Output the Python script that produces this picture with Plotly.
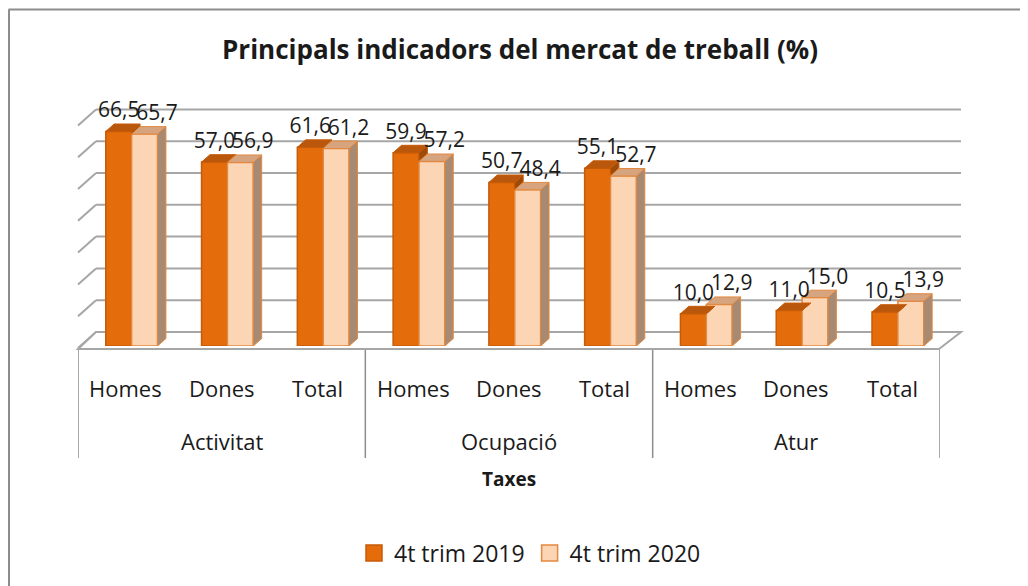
import plotly.graph_objects as go

groups = ["Activitat"] * 3 + ["Ocupació"] * 3 + ["Atur"] * 3
subcats = ["Homes", "Dones", "Total"] * 3
vals_2019 = [66.5, 57.0, 61.6, 59.9, 50.7, 55.1, 10.0, 11.0, 10.5]
vals_2020 = [65.7, 56.9, 61.2, 57.2, 48.4, 52.7, 12.9, 15.0, 13.9]
series_names = ["4t trim 2019", "4t trim 2020"]
axis_title = "Taxes"
chart_title = "Principals indicadors del mercat de treball (%)"

# ---- geometry / style constants (page pixel coords; page body has 8px margin) ----
PAGE_W, PAGE_H = 1028, 586
O = 8                       # body margin of the html page
W, H = PAGE_W - O, PAGE_H - O
ML, MR, MT, MB = 78 - O, 88, 104 - O, 240
PW, PH = W - ML - MR, H - MT - MB
YMAX = 75
BW = 0.27                   # bar width (category units)
OFF1, OFF2 = -0.21, 0.06    # bar offsets
DX, DY = 0.088, 2.3         # 3D depth in data units
FONT = "Open Sans"
TXT = "#1a1a1a"

C1, C1_LINE, C1_TOP = "#E46C0A", "#C65B08", "#B9570C"
C2, C2_LINE, C2_TOP, C2_SIDE = "#FCD5B5", "#E3883E", "#D6A47E", "#A88A72"


def px_x(x):
    """page x pixel -> paper coordinate"""
    return (x - O - ML) / PW


def px_y(y):
    """page y pixel -> paper coordinate"""
    return (H - MB - (y - O)) / PH


def cy(y):
    """page y pixel -> container fraction"""
    return 1 - (y - O) / H


def cx(x):
    return (x - O) / W


xs = list(range(len(subcats)))

fig = go.Figure()

# front faces
fig.add_trace(go.Bar(
    x=xs, y=vals_2019, name=series_names[0], width=BW, offset=OFF1,
    marker=dict(color=C1, line=dict(color=C1_LINE, width=1.5)),
    showlegend=False, hoverinfo="y",
))
fig.add_trace(go.Bar(
    x=xs, y=vals_2020, name=series_names[1], width=BW, offset=OFF2,
    marker=dict(color=C2, line=dict(color=C2_LINE, width=1.5)),
    showlegend=False, hoverinfo="y",
))


def poly_trace(polys, fill, line):
    px, py = [], []
    for p in polys:
        for (a, b) in p:
            px.append(a)
            py.append(b)
        px.append(p[0][0])
        py.append(p[0][1])
        px.append(None)
        py.append(None)
    return go.Scatter(x=px, y=py, mode="lines", fill="toself", fillcolor=fill,
                      line=dict(color=line, width=1), showlegend=False,
                      hoverinfo="skip")


side1, top1, side2, top2 = [], [], [], []
for i, (v1, v2) in enumerate(zip(vals_2019, vals_2020)):
    a0, a1 = i + OFF1, i + OFF1 + BW
    b0, b1 = i + OFF2, i + OFF2 + BW
    p = min(v1, v2)
    side1.append([(a1, p), (a1, v1), (a1 + DX, v1 + DY), (a1 + DX, p + DY)])
    top1.append([(a0, v1), (a1, v1), (a1 + DX, v1 + DY), (a0 + DX, v1 + DY)])
    side2.append([(b1, 0), (b1, v2), (b1 + DX, v2 + DY), (b1 + DX, DY)])
    top2.append([(b0, v2), (b1, v2), (b1 + DX, v2 + DY), (b0 + DX, v2 + DY)])

fig.add_trace(poly_trace(side1, "#9E4A08", C1_LINE))
fig.add_trace(poly_trace(top1, C1_TOP, C1_LINE))
fig.add_trace(poly_trace(side2, C2_SIDE, C2_LINE))
fig.add_trace(poly_trace(top2, C2_TOP, C2_LINE))

# data labels
fig.add_trace(go.Scatter(
    x=[i + OFF1 + BW / 2 for i in xs], y=[v + DY + 0.4 for v in vals_2019],
    mode="text", text=[f"{v:.1f}".replace(".", ",") for v in vals_2019],
    textposition="top center", textfont=dict(size=21, family=FONT, color=TXT),
    showlegend=False, hoverinfo="skip", cliponaxis=False,
))
fig.add_trace(go.Scatter(
    x=[i + OFF2 + BW / 2 + 0.13 for i in xs], y=[v + DY + 0.4 for v in vals_2020],
    mode="text", text=[f"{v:.1f}".replace(".", ",") for v in vals_2020],
    textposition="top center", textfont=dict(size=21, family=FONT, color=TXT),
    showlegend=False, hoverinfo="skip", cliponaxis=False,
))

# legend entries
fig.add_trace(go.Scatter(x=[None], y=[None], mode="markers", name=series_names[0],
                         marker=dict(symbol="square", size=16, color=C1,
                                     line=dict(color=C1_LINE, width=1.5))))
fig.add_trace(go.Scatter(x=[None], y=[None], mode="markers", name=series_names[1],
                         marker=dict(symbol="square", size=16, color=C2,
                                     line=dict(color=C2_LINE, width=1.5))))

shapes = [
    dict(type="line", xref="paper", yref="paper", x0=px_x(8.5), x1=px_x(PAGE_W),
         y0=px_y(9.5), y1=px_y(9.5), line=dict(color="#8C8C8C", width=2)),
    dict(type="line", xref="paper", yref="paper", x0=px_x(9), x1=px_x(9),
         y0=px_y(9.5), y1=px_y(PAGE_H), line=dict(color="#8C8C8C", width=2)),
]

GRID = "#A6A6A6"
for k in range(8):
    yb = 332 - 31.8 * k
    shapes.append(dict(type="line", xref="paper", yref="paper", layer="below",
                       x0=px_x(96), x1=px_x(961), y0=px_y(yb), y1=px_y(yb),
                       line=dict(color=GRID, width=2)))
    shapes.append(dict(type="line", xref="paper", yref="paper", layer="below",
                       x0=px_x(78), x1=px_x(96), y0=px_y(yb + 16), y1=px_y(yb),
                       line=dict(color=GRID, width=2)))
shapes.append(dict(type="path", xref="paper", yref="paper", layer="below",
                   path=(f"M {px_x(78)} {px_y(349)} L {px_x(939)} {px_y(349)} "
                         f"L {px_x(961)} {px_y(332)} L {px_x(96)} {px_y(332)} Z"),
                   fillcolor="white", line=dict(color=GRID, width=2)))

group_names = []
for g in groups:
    if g not in group_names:
        group_names.append(g)
bounds = [-0.5]
for g in group_names:
    idx = [i for i, gg in enumerate(groups) if gg == g]
    bounds.append(max(idx) + 0.5)
for b in bounds:
    shapes.append(dict(type="line", xref="x", yref="paper", x0=b, x1=b,
                       y0=px_y(350), y1=px_y(458),
                       line=dict(color="#8C8C8C", width=1.5)))

annotations = []
for i, s in enumerate(subcats):
    annotations.append(dict(x=i, y=px_y(388), xref="x", yref="paper", text=s,
                            showarrow=False, yanchor="middle",
                            font=dict(size=22, family=FONT, color=TXT)))
for g in group_names:
    idx = [i for i, gg in enumerate(groups) if gg == g]
    annotations.append(dict(x=sum(idx) / len(idx), y=px_y(441), xref="x", yref="paper",
                            text=g, showarrow=False, yanchor="middle",
                            font=dict(size=22, family=FONT, color=TXT)))
annotations.append(dict(x=(len(subcats) - 1) / 2, y=px_y(479), xref="x", yref="paper",
                        text=f"<b>{axis_title}</b>", showarrow=False, yanchor="middle",
                        font=dict(size=19, family=FONT, color=TXT)))

fig.update_layout(
    width=W, height=H,
    margin=dict(l=ML, r=MR, t=MT, b=MB),
    paper_bgcolor="white", plot_bgcolor="rgba(0,0,0,0)",
    separators=",.",
    font=dict(family=FONT, color=TXT),
    title=dict(text=f"<b>{chart_title}</b>",
               x=cx(520), xanchor="center", y=cy(50), yanchor="middle",
               yref="container", font=dict(size=26, family=FONT, color=TXT)),
    xaxis=dict(range=[-0.5, len(subcats) - 0.5], showticklabels=False, showgrid=False,
               zeroline=False, showline=False, ticks=""),
    yaxis=dict(range=[0, YMAX], showticklabels=False, showgrid=False,
               zeroline=False, showline=False, ticks=""),
    legend=dict(orientation="h", x=cx(530), xanchor="center", xref="container",
                y=cy(553), yanchor="middle", yref="container",
                font=dict(size=23, family=FONT, color=TXT),
                itemwidth=30, traceorder="normal"),
    shapes=shapes,
    annotations=annotations,
)

fig.write_html("out.html")
